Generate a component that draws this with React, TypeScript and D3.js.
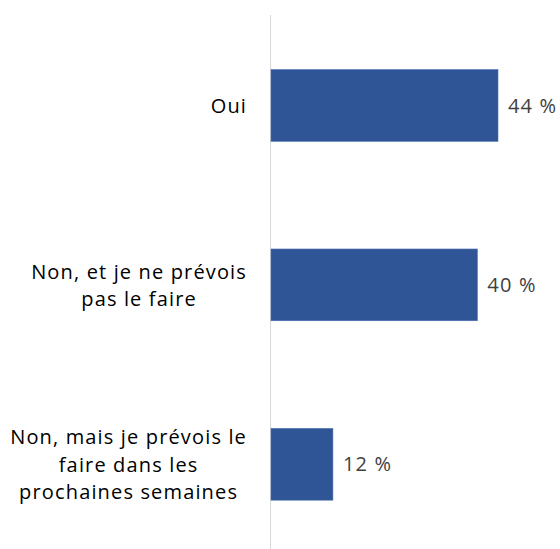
import React, { useLayoutEffect, useRef, useState } from "react";
import * as d3 from "d3";

const categories: string[][] = [
  ["Oui"],
  ["Non, et je ne prévois", "pas le faire"],
  ["Non, mais je prévois le", "faire dans les", "prochaines semaines"],
];
const values: number[] = [44, 40, 12];
const valueLabels: string[] = ["44 %", "40 %", "12 %"];

export default function App() {
  const W = 560, H = 549;
  const x0 = 271;
  const x = d3.scaleLinear().domain([0, 44]).range([x0, 498]);
  const ids = categories.map((_, i) => String(i));
  const y = d3.scaleBand().domain(ids).range([15.75, 554]).paddingInner(0.6).paddingOuter(0.3);
  const font = "'Open Sans', sans-serif";
  const fs = 20;
  const ls = 1.15;
  const lh = 27.6;
  const labelRight = 247;
  const gRef = useRef<SVGGElement>(null);
  const [centers, setCenters] = useState<number[]>(categories.map(() => 140));

  useLayoutEffect(() => {
    if (!gRef.current) return;
    const groups = Array.from(gRef.current.querySelectorAll("g.lab"));
    const c = groups.map((g) => {
      const ts = Array.from(g.querySelectorAll("text")) as SVGTextElement[];
      const mw = d3.max(ts, (t) => t.getComputedTextLength()) || 0;
      return labelRight - mw / 2;
    });
    setCenters(c);
  }, []);

  return (
    <svg width={W} height={H} style={{ position: "absolute", left: 0, top: 0, background: "#fff" }}>
      <line x1={270.5} x2={270.5} y1={15} y2={H} stroke="#d9d9d9" strokeWidth={1} />
      <g ref={gRef}>
        {values.map((v, i) => {
          const yy = y(ids[i])!;
          const bw = y.bandwidth();
          const cy = yy + bw / 2;
          const lines = categories[i];
          return (
            <g key={i}>
              <rect x={x0} y={yy} width={x(v) - x0} height={bw} fill="#2f5597" stroke="#4a6fb0" strokeWidth={0.6} />
              <text x={x(v) + 10} y={cy} dy="0.36em" fontFamily={font} fontSize={fs} letterSpacing={ls} fill="#404040">
                {valueLabels[i]}
              </text>
              <g className="lab">
                {lines.map((t, j) => (
                  <text
                    key={j}
                    x={centers[i]}
                    y={cy + (j - (lines.length - 1) / 2) * lh}
                    dy="0.38em"
                    textAnchor="middle"
                    fontFamily={font}
                    fontSize={fs}
                    letterSpacing={ls}
                    fill="#000"
                  >
                    {t}
                  </text>
                ))}
              </g>
            </g>
          );
        })}
      </g>
    </svg>
  );
}
